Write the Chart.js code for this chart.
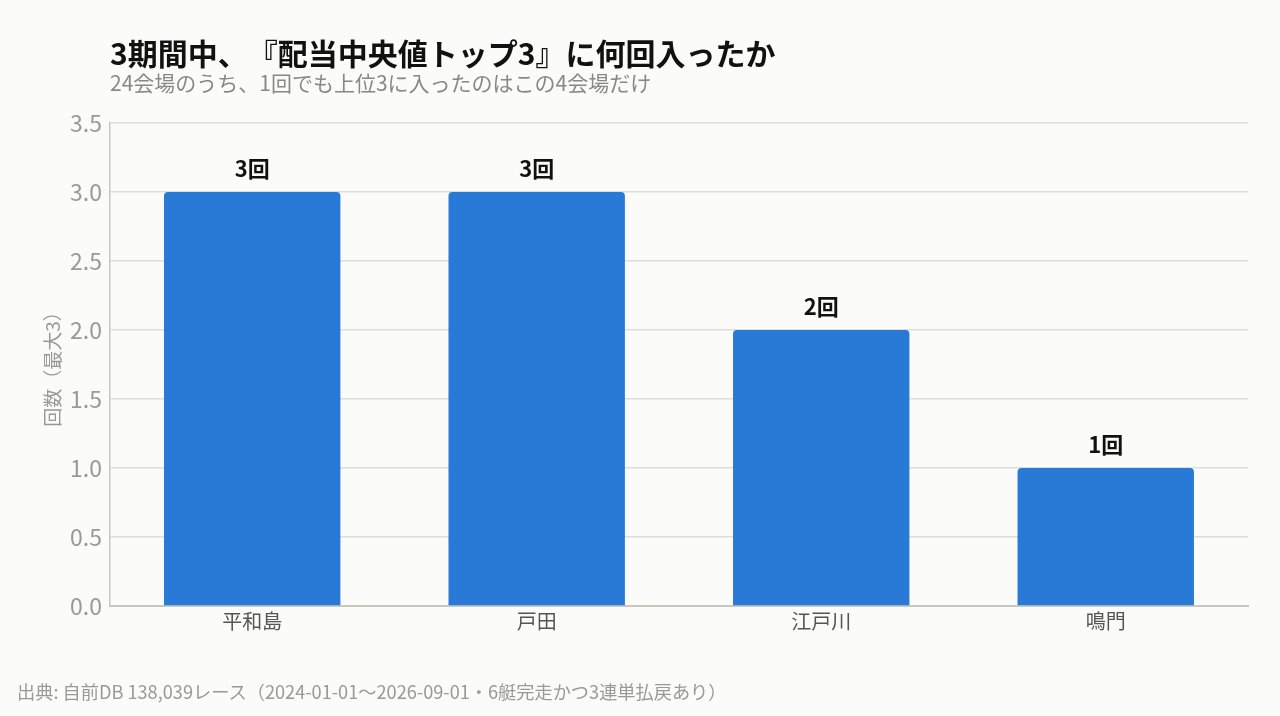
<!DOCTYPE html>
<html lang="ja">
<head>
<meta charset="utf-8">
<script src="https://cdn.jsdelivr.net/npm/chart.js@4.4.1/dist/chart.umd.min.js"></script>
<style>
html, body { margin: 0; padding: 0; background: #fbfbf9; }
body { width: 1280px; height: 716px; position: relative; overflow: hidden;
  font-family: "Noto Sans CJK JP", "Noto Sans", sans-serif; text-spacing-trim: space-all; }
#chartBox { position: absolute; left: 0; top: 0; width: 1280px; height: 716px; }
.title, .subtitle, .footer { position: absolute; white-space: nowrap; line-height: 1; }
.title { left: 110px; top: 37px; font-size: 30px; font-weight: bold; color: #111; }
.subtitle { left: 110px; top: 72px; font-size: 21px; color: #888; }
.footer { left: 17px; top: 682px; font-size: 18.2px; color: #999; }
</style>
</head>
<body>
<div id="chartBox"><canvas id="topChart"></canvas></div>
<div class="title">3期間中、『配当中央値トップ3』に何回入ったか</div>
<div class="subtitle">24会場のうち、1回でも上位3に入ったのはこの4会場だけ</div>
<div class="footer">出典: 自前DB 138,039レース（2024-01-01〜2026-09-01・6艇完走かつ3連単払戻あり）</div>
<script>
// DATA
const venues = ['平和島', '戸田', '江戸川', '鳴門'];
const counts = [3, 3, 2, 1];
const valueLabels = ['3回', '3回', '2回', '1回'];

const FONT = '"Noto Sans CJK JP", "Noto Sans", sans-serif';

// draw "n回" above each bar
const barLabels = {
  id: 'barLabels',
  afterDatasetsDraw(chart) {
    const c = chart.ctx;
    const meta = chart.getDatasetMeta(0);
    c.save();
    c.font = 'bold 22px ' + FONT;
    c.fillStyle = '#111';
    c.textAlign = 'center';
    c.textBaseline = 'middle';
    meta.data.forEach((bar, i) => {
      c.fillText(valueLabels[i], bar.x, bar.y - 23);
    });
    c.restore();
  }
};

const ctx = document.getElementById('topChart');

new Chart(ctx, {
  type: 'bar',
  data: {
    labels: venues,
    datasets: [{
      data: counts,
      backgroundColor: '#2979d6',
      borderRadius: { topLeft: 4, topRight: 4 },
      borderSkipped: 'bottom',
      categoryPercentage: 0.62,
      barPercentage: 1.0
    }]
  },
  options: {
    responsive: true,
    maintainAspectRatio: false,
    animation: false,
    layout: { padding: { top: 123, right: 32, bottom: 80, left: 39 } },
    plugins: {
      legend: { display: false },
      tooltip: { enabled: false }
    },
    scales: {
      x: {
        grid: { display: false, drawTicks: false },
        border: { color: '#c8c8c0', width: 2 },
        ticks: { color: '#555', font: { family: FONT, size: 20 }, padding: 3 }
      },
      y: {
        min: 0,
        max: 3.5,
        ticks: {
          stepSize: 0.5,
          color: '#999',
          padding: 8,
          font: { family: FONT, size: 23 },
          callback: v => v.toFixed(1)
        },
        grid: { color: '#deded8', lineWidth: 1.5, drawTicks: false },
        border: { color: '#c8c8c0', width: 1.5 },
        title: {
          display: true,
          text: '回数（最大3）',
          color: '#999',
          font: { family: FONT, size: 19, lineHeight: 1.0 },
          padding: { top: 4, bottom: 0 }
        }
      }
    }
  },
  plugins: [barLabels]
});
</script>
</body>
</html>
